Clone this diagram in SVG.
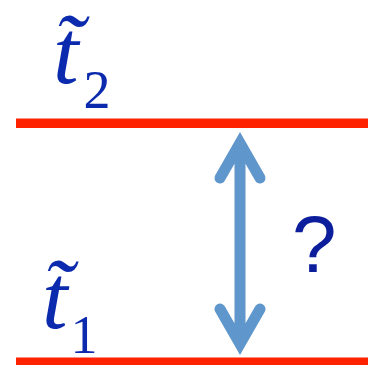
<svg xmlns="http://www.w3.org/2000/svg" width="376" height="365" viewBox="0 0 376 365">
<style>
.line{fill:#FF2200}
.t{font-family:'Liberation Serif','Times New Roman',serif;font-style:italic;fill:#0B2AAE}
.sub{font-family:'Liberation Serif','Times New Roman',serif;fill:#0B2AAE}
.q{font-family:'Liberation Sans',Arial,sans-serif;fill:#0C1E9C}
.arr{fill:none;stroke:#5F96CB;stroke-width:11;stroke-linecap:round;stroke-linejoin:miter;stroke-miterlimit:6}
</style>
<rect width="376" height="365" fill="#fff"/>
<g id="line2"><rect class="line" x="16" y="118.5" width="352" height="9.5"/></g>
<g id="line1"><rect class="line" x="16" y="357.5" width="352" height="7.5"/></g>
<g id="label2">
<text class="t" x="53" y="83" font-size="92">t̃<tspan class="sub" font-style="normal" font-size="54" dx="5" dy="25">2</tspan></text>
</g>
<g id="label1">
<text class="t" x="42" y="328" font-size="92">t̃<tspan class="sub" font-style="normal" font-size="54" dx="3" dy="25">1</tspan></text>
</g>
<g id="connectors">
<path class="arr" d="M240,146 V341 M220,178 L240,143 L260,178 M220,309 L240,344 L260,309"/>
</g>
<g id="question"><text class="q" x="292" y="272" font-size="80">?</text></g>
</svg>
